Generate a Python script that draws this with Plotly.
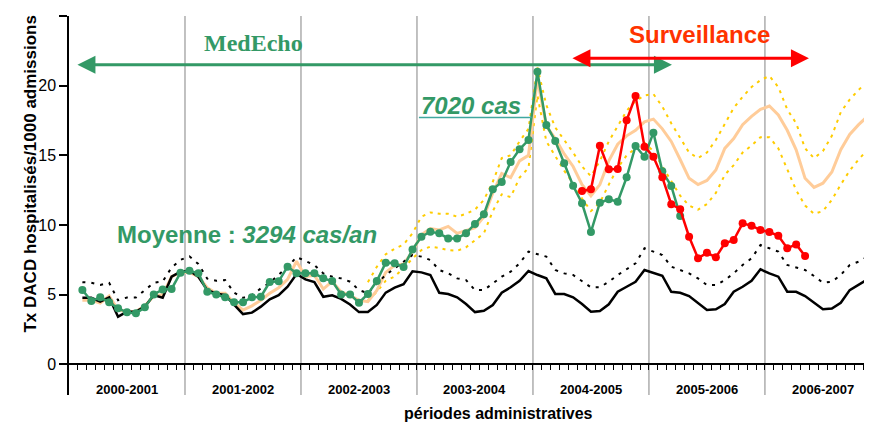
import plotly.graph_objects as go

# ---------------- data (13 four-week periods per administrative year) ----------------
periods = ["2000-2001", "2001-2002", "2002-2003", "2003-2004",
           "2004-2005", "2005-2006", "2006-2007"]
slots_per_period = 13
y_ticks = [0, 5, 10, 15, 20, 25]

# MedEcho observed rate (green), starts at slot 1
medecho_start = 1
medecho = [5.33, 4.54, 4.81, 4.45, 4.02, 3.73, 3.66, 4.09, 5.02, 5.38, 5.41, 6.58,
           6.72, 6.53, 5.21, 5.02, 4.81, 4.45, 4.45, 4.81, 4.85, 5.91, 5.96, 7.01,
           6.53, 6.53, 6.53, 6.17, 5.98, 5.02, 5.02, 4.42, 5.05, 5.98, 7.30, 7.25,
           6.98, 8.25, 9.16, 9.52, 9.40, 9.04, 9.04, 9.40, 10.07, 10.77, 12.56, 13.09,
           14.52, 15.43, 16.10, 21.00, 17.18, 16.03, 14.43, 12.82, 11.56, 9.50, 11.60,
           11.84, 11.67, 13.42, 15.67, 14.90, 16.63, 13.85, 12.80, 10.65]

# Surveillance rate (red), starts at slot 57
surv_start = 57
surveillance = [12.44, 12.56, 15.69, 14.00, 14.02, 17.52, 19.26, 15.62, 14.90, 13.42,
                11.49, 11.13, 9.16, 7.61, 8.01, 7.68, 8.69, 8.92, 10.12, 9.95, 9.64,
                9.50, 9.23, 8.33, 8.61, 7.77]

# baseline (black solid) and its threshold (black dotted), start at slot 1
base_start = 1
baseline = [4.78, 4.78, 4.50, 4.80, 3.42, 3.78, 3.78, 4.14, 4.97, 4.78, 6.29, 6.65,
            6.72, 6.29, 5.33, 5.09, 4.97, 4.26, 3.61, 3.71, 4.14, 4.67, 4.97, 5.57,
            6.48, 6.10, 5.90, 4.85, 4.95, 4.70, 4.30, 3.75, 3.75, 4.26, 5.15, 5.50,
            5.75, 6.68, 6.60, 6.41, 5.14, 5.05, 4.81, 4.33, 3.75, 3.85, 4.26, 5.14,
            5.53, 6.00, 6.70, 6.41, 6.17, 5.05, 5.05, 4.81, 4.33, 3.78, 3.83, 4.31,
            5.21, 5.57, 5.93, 6.77, 6.58, 6.36, 5.21, 5.14, 4.90, 4.42, 3.90, 3.95,
            4.33, 5.21, 5.57, 6.00, 6.82, 6.53, 6.29, 5.21, 5.21, 4.90, 4.42, 3.95,
            4.00, 4.42, 5.33, 5.69, 6.10, 6.80]
threshold = [5.90, 5.85, 5.70, 5.85, 4.60, 4.80, 4.80, 5.30, 5.85, 5.95, 6.95, 7.50,
             7.75, 7.20, 6.15, 6.00, 6.05, 5.15, 4.77, 4.97, 5.45, 5.85, 6.40, 7.00,
             7.70, 7.40, 7.13, 6.53, 6.29, 6.17, 5.93, 5.33, 5.10, 5.81, 6.41, 6.89,
             7.37, 7.85, 7.73, 7.49, 6.77, 6.53, 6.17, 6.05, 5.33, 5.33, 5.81, 6.29,
             6.65, 7.25, 8.09, 7.90, 7.73, 6.77, 6.53, 6.41, 6.00, 5.53, 5.53, 5.93,
             6.41, 6.82, 7.25, 8.33, 8.09, 7.85, 7.01, 6.77, 6.53, 6.17, 5.69, 5.69,
             6.05, 6.53, 7.13, 7.61, 8.56, 8.33, 8.09, 7.13, 6.96, 6.77, 6.34, 5.86,
             5.93, 6.41, 7.13, 7.37, 7.73, 8.40]

# expected rate (orange), starts at slot 1
expected_start = 1
expected = [4.6, 4.6, 4.4, 4.9, 3.9, 3.8, 3.8, 4.2, 4.9, 5.0, 6.3, 6.6,
            6.6, 6.3, 5.5, 5.1, 5.1, 4.4, 3.9, 4.2, 4.6, 5.1, 5.5, 6.1,
            7.4, 6.3, 6.4, 5.4, 5.95, 5.2, 4.95, 4.6, 4.5, 5.3, 6.6, 7.1,
            7.2, 8.1, 9.3, 9.75, 9.65, 9.9, 9.4, 9.6, 9.8, 10.6, 12.3, 13.7,
            13.4, 14.6, 15.0, 20.5, 17.1, 16.2, 15.1, 14.2, 12.9, 12.1, 12.9, 14.6,
            15.8, 16.4, 16.8, 17.4, 17.6, 16.9, 16.0, 14.7, 13.35, 12.9, 13.2, 13.95,
            15.5, 16.2, 17.2, 17.8, 18.3, 18.54, 17.9, 16.8, 15.4, 13.35, 12.7, 13.0,
            13.8, 15.4, 16.5, 17.2, 17.8, 18.2]

# confidence bounds (yellow dotted), start at slot 33
bounds_start = 33
upper = [5.9, 7.0, 7.9, 8.3, 8.6, 9.4, 10.6, 10.9, 10.8, 10.8, 10.6, 10.8, 11.1,
         11.8, 13.1, 14.8, 15.0, 16.0, 16.9, 21.3, 18.6, 17.0, 16.1, 15.2, 14.2,
         13.5, 14.6, 16.0, 17.1, 18.2, 18.9, 19.3, 19.4, 18.5, 17.3, 16.2, 15.2,
         14.8, 15.2, 16.1, 17.3, 18.4, 19.2, 19.9, 20.4, 20.7, 19.9, 18.3, 17.3,
         15.5, 14.8, 15.3, 16.4, 18.1, 19.0, 19.7, 20.3, 20.7]
lower = [4.6, 5.2, 6.0, 6.3, 6.9, 7.6, 8.2, 8.45, 8.35, 8.2, 8.15, 8.4, 8.9,
         9.4, 11.0, 12.2, 12.0, 13.4, 14.1, 19.3, 16.0, 15.0, 13.9, 13.0, 11.9,
         11.0, 11.6, 12.9, 14.1, 15.0, 15.5, 15.9, 15.3, 14.2, 13.1, 12.1, 11.4,
         11.1, 11.5, 12.3, 13.6, 14.3, 15.2, 15.7, 16.3, 16.3, 15.5, 14.0, 12.5,
         11.4, 10.8, 11.0, 11.8, 12.9, 13.9, 14.7, 15.4, 15.9]

# annotation texts
medecho_label = "MedEcho"
surv_label = "Surveillance"
cases_label = "7020 cas"
mean_label = "Moyenne : <i>3294 cas/an</i>"
y_title = "Tx DACD hospitalisés/1000 admissions"
x_title = "périodes administratives"

GREEN = "#339966"
RED = "#FF0000"
RED_TXT = "#FF3300"
ORANGE = "#FFCC99"
YELLOW = "#FFCC00"
SANS = "Liberation Sans, Arial, sans-serif"
SERIF = "Liberation Serif, Times New Roman, serif"


def xs(start, vals):
    return list(range(start, start + len(vals)))


n_slots = slots_per_period * len(periods)
x_min, x_max = -0.5, n_slots - 1.5
y_min, y_max = -2.2, 25

fig = go.Figure()

line_traces = [
    (bounds_start, upper, dict(color=YELLOW, width=2, dash="3px,5px")),
    (bounds_start, lower, dict(color=YELLOW, width=2, dash="3px,5px")),
    (expected_start, expected, dict(color=ORANGE, width=3)),
    (base_start, threshold, dict(color="black", width=2, dash="3px,6px")),
    (base_start, baseline, dict(color="black", width=2.5)),
]
for start, vals, ln in line_traces:
    fig.add_trace(go.Scatter(x=xs(start, vals), y=vals, mode="lines", line=ln,
                             hoverinfo="skip", showlegend=False))

fig.add_trace(go.Scatter(x=xs(medecho_start, medecho), y=medecho, mode="lines+markers",
                         line=dict(color=GREEN, width=2.5),
                         marker=dict(color=GREEN, size=8), showlegend=False))
fig.add_trace(go.Scatter(x=xs(surv_start, surveillance), y=surveillance,
                         mode="lines+markers", line=dict(color=RED, width=2.5),
                         marker=dict(color=RED, size=8), showlegend=False))

# period separators
for p in range(1, len(periods)):
    xb = p * slots_per_period - 0.5
    fig.add_shape(type="line", x0=xb, x1=xb, y0=0, y1=1, xref="x", yref="paper",
                  line=dict(color="#A0A0A0", width=1.3), layer="below")

# period labels
for p, lab in enumerate(periods):
    fig.add_annotation(x=p * slots_per_period + 6, y=-1.84, xref="x", yref="y",
                       text="<b>%s</b>" % lab, showarrow=False,
                       font=dict(family=SANS, size=13, color="black"))

# arrows
arrows = [
    (0.28, 67.08, 21.5, GREEN),
    (55.76, 82.43, 21.97, RED),
]
for x0, x1, yv, col in arrows:
    fig.add_annotation(x=x1, y=yv, ax=x0, ay=yv, xref="x", yref="y", axref="x",
                       ayref="y", text="", showarrow=True, arrowhead=2,
                       arrowside="end+start", arrowwidth=3, arrowsize=1.2,
                       arrowcolor=col, standoff=0, startstandoff=0)

fig.add_annotation(x=20.2, y=23.05, xref="x", yref="y", text="<b>%s</b>" % medecho_label,
                   showarrow=False, font=dict(family=SERIF, size=24, color=GREEN))
fig.add_annotation(x=70.2, y=23.7, xref="x", yref="y", text="<b>%s</b>" % surv_label,
                   showarrow=False, font=dict(family=SANS, size=24, color=RED_TXT))
fig.add_annotation(x=44.6, y=18.6, xref="x", yref="y",
                   text="<b><i>%s</i></b>" % cases_label,
                   showarrow=False, font=dict(family=SANS, size=24, color=GREEN))
fig.add_shape(type="line", x0=38.72, x1=51.36, y0=17.72, y1=17.72, xref="x", yref="y",
              line=dict(color="#40A8A0", width=1.5))
fig.add_annotation(x=19.5, y=9.35, xref="x", yref="y", text="<b>%s</b>" % mean_label,
                   showarrow=False, font=dict(family=SANS, size=24, color=GREEN))

# axis titles
fig.add_annotation(x=-0.0623, y=0.583, xref="paper", yref="paper",
                   text="<b>%s</b>" % y_title, textangle=-90, showarrow=False,
                   font=dict(family=SANS, size=17, color="black"))
fig.add_annotation(x=47.6, y=-0.048, xref="x", yref="paper", text="<b>%s</b>" % x_title,
                   showarrow=False, yanchor="middle",
                   font=dict(family=SANS, size=16, color="black"))

zero_pos = (0 - y_min) / (y_max - y_min)

# the page body has an 8px default margin: size the figure so the plot area
# lands where the reference has it
fig.update_layout(
    width=864, height=420,
    margin=dict(l=61, r=0, t=8, b=33),
    paper_bgcolor="white", plot_bgcolor="white",
    font=dict(family=SANS, color="black"),
    xaxis=dict(range=[x_min, x_max], anchor="free", position=zero_pos,
               showline=True, linecolor="black", linewidth=1.5,
               ticks="outside", ticklen=5, tickwidth=1, tickcolor="black",
               tickvals=[k + 0.5 for k in range(n_slots - 1)],
               showticklabels=False, showgrid=False, zeroline=False),
    yaxis=dict(range=[y_min, y_max], showline=True, linecolor="black", linewidth=1.5,
               ticks="outside", ticklen=8, tickwidth=1.5, tickcolor="black",
               tickvals=y_ticks, tickfont=dict(size=16, family=SANS),
               showgrid=False, zeroline=False),
)

fig.write_html("out.html")
